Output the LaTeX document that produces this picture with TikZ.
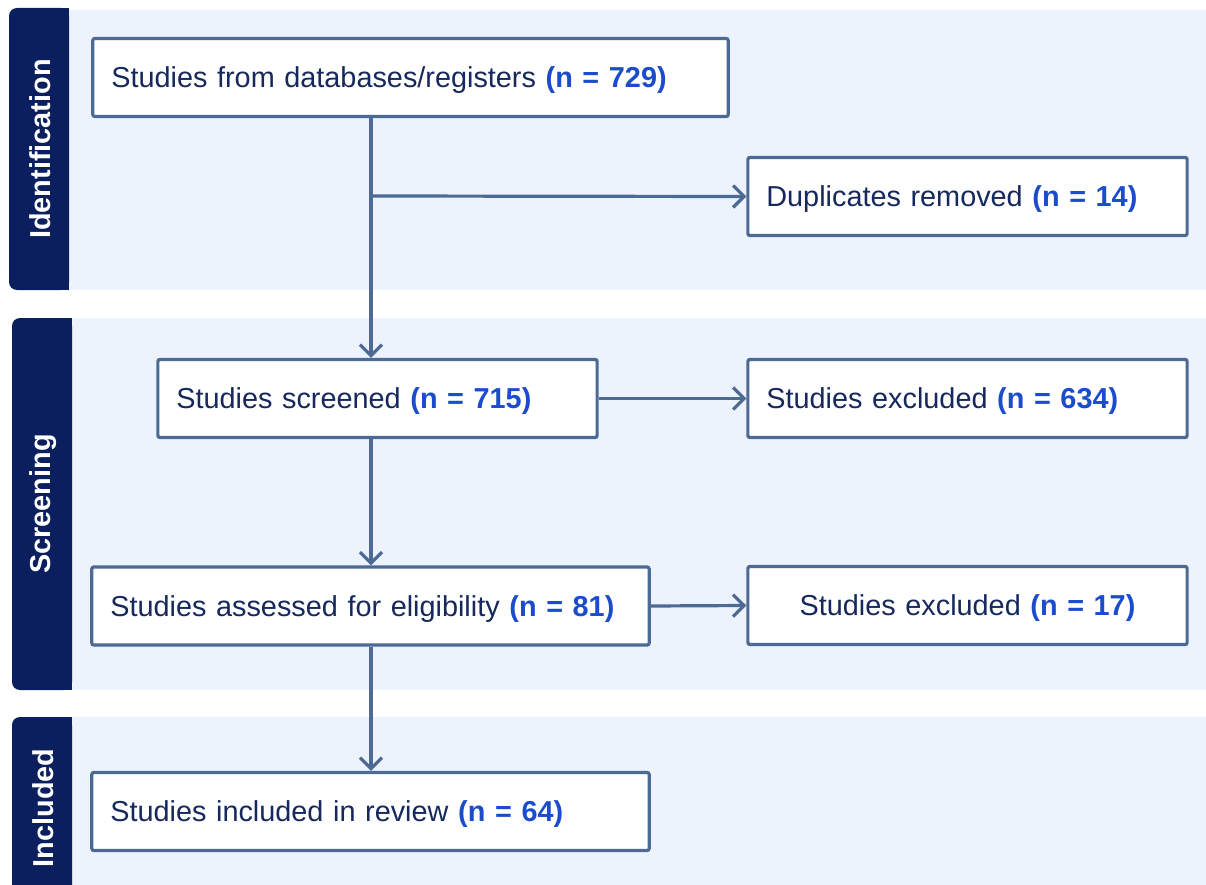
\documentclass[tikz,border=0pt]{standalone}
\usepackage{fontspec}
\setmainfont{Liberation Sans}
\usetikzlibrary{arrows.meta}
\definecolor{navy}{HTML}{0B1F5E}
\definecolor{bandbg}{HTML}{EDF3FC}
\definecolor{bordercol}{HTML}{4D6A94}
\definecolor{txtcol}{HTML}{16285C}
\definecolor{numcol}{HTML}{1B4CCB}
\newcommand{\nval}[1]{\textbf{\color{numcol}(n = #1)}}
\tikzset{
  band/.style={fill=bandbg, draw=none},
  sidebar/.style={fill=navy, draw=none, rounded corners=0.08cm},
  sidelabel/.style={text=white, font=\fontsize{8.2}{10}\selectfont\bfseries, rotate=90},
  box/.style={draw=bordercol, line width=0.032cm, fill=white, rounded corners=0.02cm,
    minimum height=0.78cm, inner xsep=0.185cm, inner ysep=0pt, align=left,
    text height=0.26cm, text depth=0.06cm,
    text=txtcol, font=\fontsize{8.2}{10}\selectfont},
  cbox/.style={box, align=center},
  flow/.style={draw=bordercol, line width=0.032cm, -{Straight Barb[length=0.11cm, width=0.22cm, line width=0.032cm]}},
  flowline/.style={draw=bordercol, line width=0.032cm}
}
\begin{document}
\begin{tikzpicture}[x=0.01cm, y=-0.01cm]
\useasboundingbox (0,0) rectangle (1206,885);
\fill[white] (0,0) rectangle (1206,885);
% bands
\fill[band] (60,10) rectangle (1206,290);
\fill[band] (60,318) rectangle (1206,690);
\fill[band] (60,717) rectangle (1206,885);
% sidebars
\fill[sidebar] (9,8) rectangle (69,290);
\fill[navy] (40,8) rectangle (69,290);
\fill[sidebar] (12,318) rectangle (72,690);
\fill[navy] (40,318) rectangle (72,690);
\fill[sidebar] (12,717) rectangle (72,900);
\fill[navy] (40,717) rectangle (72,900);
\node[sidelabel] (lid) at (40,149) {Identification};
\node[sidelabel] (lsc) at (43,504) {Screening};
\node[sidelabel] (lin) at (43,808) {Included};
% boxes
\node[box, text width=5.98cm] (db) at (410.5,77.5) {Studies from databases/registers \nval{729}};
\node[box, text width=4.02cm] (dup) at (967.5,196.5) {Duplicates removed \nval{14}};
\node[box, text width=4.02cm] (scr) at (377.5,398.5) {Studies screened \nval{715}};
\node[box, text width=4.02cm] (ex1) at (967.5,398.5) {Studies excluded \nval{634}};
\node[box, text width=5.20cm] (ass) at (370.5,606) {Studies assessed for eligibility \nval{81}};
\node[cbox, text width=4.02cm] (ex2) at (967.5,605.5) {Studies excluded \nval{17}};
\node[box, text width=5.20cm] (inc) at (370.5,811.5) {Studies included in review \nval{64}};
% connectors
\coordinate (br) at (371,196);
\draw[flowline] (db.south -| br) -- (br);
\draw[flow] (br) -- (dup.west);
\draw[flow] (br) -- (br |- scr.north);
\draw[flow] (scr.east) -- (ex1.west);
\draw[flow] (scr.south -| br) -- (br |- ass.north);
\draw[flow] (ass.east) -- (ex2.west);
\draw[flow] (ass.south -| br) -- (br |- inc.north);
\end{tikzpicture}
\end{document}
